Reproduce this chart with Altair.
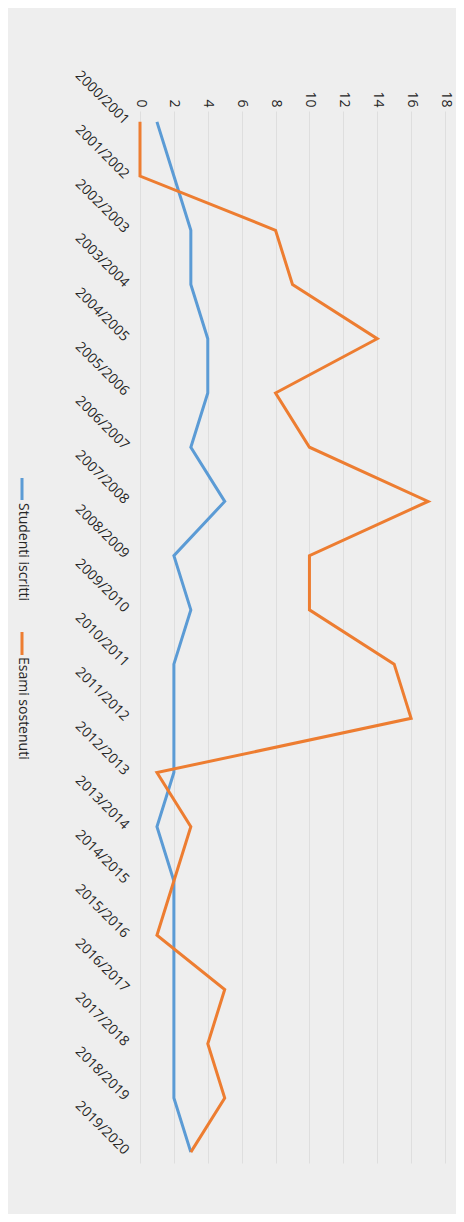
import altair as alt
import pandas as pd

years = ["2000/2001", "2001/2002", "2002/2003", "2003/2004", "2004/2005",
         "2005/2006", "2006/2007", "2007/2008", "2008/2009", "2009/2010",
         "2010/2011", "2011/2012", "2012/2013", "2013/2014", "2014/2015",
         "2015/2016", "2016/2017", "2017/2018", "2018/2019", "2019/2020"]
studenti = [1, 2, 3, 3, 4, 4, 3, 5, 2, 3, 2, 2, 2, 1, 2, 2, 2, 2, 2, 3]
esami = [0, 0, 8, 9, 14, 8, 10, 17, 10, 10, 15, 16, 1, 3, 2, 1, 5, 4, 5, 3]
series = ["Studenti iscritti", "Esami sostenuti"]
colors = ["#5B9BD5", "#ED7D31"]
value_ticks = [0, 2, 4, 6, 8, 10, 12, 14, 16, 18]

n = len(years)
df = pd.DataFrame({
    "anno": years * 2,
    "valore": studenti + esami,
    "serie": [series[0]] * n + [series[1]] * n,
    "idx": list(range(n)) * 2,
})

FONT = "Open Sans"
TXT = "#262626"

lines = alt.Chart(df).mark_line(strokeWidth=3).encode(
    x=alt.X("valore:Q",
            scale=alt.Scale(domain=[0, 18], nice=False, zero=True),
            axis=alt.Axis(orient="top", values=value_ticks, labelAngle=90,
                          labelAlign="right", labelBaseline="middle",
                          labelPadding=4, domain=False, ticks=False,
                          grid=True, gridColor="#dedede", gridWidth=1,
                          labelFontSize=14, labelColor=TXT,
                          labelFont=FONT, title=None)),
    y=alt.Y("anno:O", sort=years,
            scale=alt.Scale(type="point", padding=0.2),
            axis=alt.Axis(labelAngle=45, labelAlign="right",
                          labelBaseline="middle", labelPadding=14,
                          domain=False, ticks=False, grid=False,
                          labelFontSize=14, labelColor=TXT,
                          labelFont=FONT, title=None)),
    color=alt.Color("serie:N", scale=alt.Scale(domain=series, range=colors),
                    legend=None),
    order=alt.Order("idx:Q"),
)

legend_layers = []
legend_pos = [(367, 389, 392), (521, 544, 546)]
for s, c, (y1, y2, yt) in zip(series, colors, legend_pos):
    ldf = pd.DataFrame({"serie": [s]})
    rule = alt.Chart(ldf).mark_rule(strokeWidth=3, color=c).encode(
        x=alt.value(-118), y=alt.value(y1), y2=alt.value(y2))
    txt = alt.Chart(ldf).mark_text(angle=90, align="left", baseline="middle",
                                   fontSize=14, font=FONT,
                                   color=TXT).encode(
        x=alt.value(-117), y=alt.value(yt), text="serie:N")
    legend_layers += [rule, txt]

chart = alt.layer(lines, *legend_layers).properties(
    width=305, height=1052,
    autosize="none",
    padding={"left": 132, "top": 103, "right": 11, "bottom": 51},
    background="#eeeeee",
).configure_view(stroke=None)

chart.save("out.html", embed_options={"renderer": "svg", "actions": False})
